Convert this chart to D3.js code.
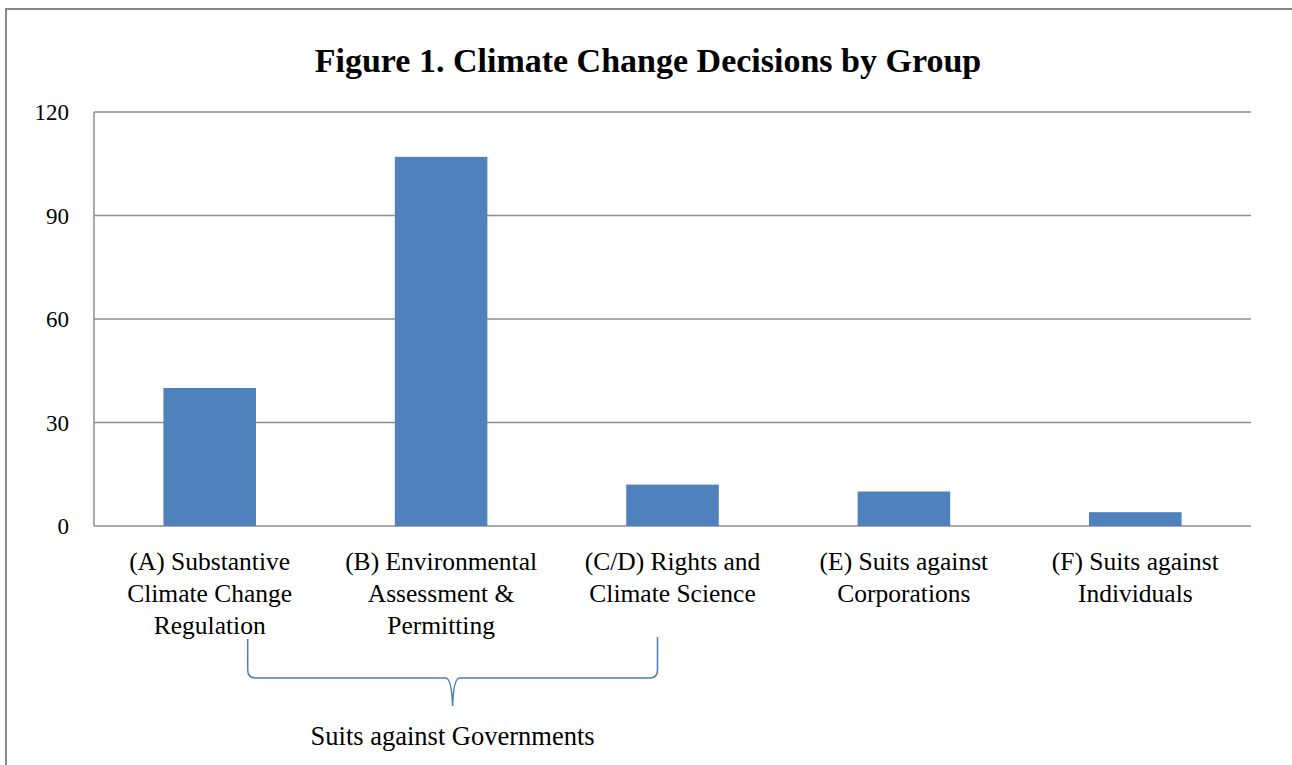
<!DOCTYPE html>
<html>
<head>
<meta charset="utf-8">
<script src="https://cdn.jsdelivr.net/npm/d3@7"></script>
<style>
  body { margin: 0; background: #fff; }
  text { font-family: "Liberation Serif", "DejaVu Serif", serif; fill: #000; }
</style>
</head>
<body>
<div id="chart"></div>
<script>
// chart data
let categories = ["A", "B", "C/D", "E", "F"];
let decisions = [40, 107, 12, 10, 4];
let labelLines = [
  ["(A) Substantive", "Climate Change", "Regulation"],
  ["(B) Environmental", "Assessment &", "Permitting"],
  ["(C/D) Rights and", "Climate Science"],
  ["(E) Suits against", "Corporations"],
  ["(F) Suits against", "Individuals"]
];
let yTicks = [0, 30, 60, 90, 120];
let title = "Figure 1. Climate Change Decisions by Group";
let bracketLabel = "Suits against Governments";

let svgWidth = 1292, svgHeight = 765;
let margin = { top: 112, right: 41, bottom: 239, left: 94 };

let svg = d3.select("#chart")
  .append("svg")
  .attr("width", svgWidth)
  .attr("height", svgHeight);

let width = svgWidth - margin.left - margin.right,
    height = svgHeight - margin.top - margin.bottom;

// outer frame
svg.append("rect")
  .attr("x", 6).attr("y", 9)
  .attr("width", 1300).attr("height", 800)
  .attr("fill", "#fff")
  .attr("stroke", "#868686")
  .attr("stroke-width", 2);

svg.append("text")
  .attr("x", 648).attr("y", 72)
  .attr("text-anchor", "middle")
  .attr("font-weight", "bold")
  .attr("font-size", 34)
  .text(title);

let g = svg.append("g")
  .attr("transform", `translate(${margin.left}, ${margin.top})`);

let x = d3.scaleBand()
  .domain(categories)
  .range([0, width])
  .paddingInner(0.6)
  .paddingOuter(0.3);

let y = d3.scaleLinear()
  .domain([0, 120])
  .range([height, 0]);

// gridlines
g.selectAll(".grid")
  .data(yTicks)
  .enter()
  .append("line")
  .attr("x1", 0).attr("x2", width)
  .attr("y1", d => y(d)).attr("y2", d => y(d))
  .attr("stroke", "#8c8c8c")
  .attr("stroke-width", 1.5);

// y axis line
g.append("line")
  .attr("x1", 0).attr("x2", 0)
  .attr("y1", 0).attr("y2", height)
  .attr("stroke", "#8c8c8c")
  .attr("stroke-width", 1.5);

g.selectAll(".ytick")
  .data(yTicks)
  .enter()
  .append("text")
  .attr("x", -25)
  .attr("y", d => y(d))
  .attr("dy", "0.35em")
  .attr("text-anchor", "end")
  .attr("font-size", 23)
  .text(d => d);

// bars
g.selectAll(".bar")
  .data(decisions)
  .enter()
  .append("rect")
  .attr("class", "bar")
  .attr("x", (d, i) => x(categories[i]))
  .attr("y", d => y(d))
  .attr("width", x.bandwidth())
  .attr("height", d => height - y(d))
  .attr("fill", "#4f81bd");

// category labels
let cx = c => x(c) + x.bandwidth() / 2;
labelLines.forEach((lines, i) => {
  let t = g.append("text")
    .attr("text-anchor", "middle")
    .attr("font-size", 25.5)
    .attr("x", cx(categories[i]))
    .attr("y", height + 44);
  lines.forEach((l, j) => {
    t.append("tspan")
      .attr("x", cx(categories[i]))
      .attr("dy", j === 0 ? 0 : 32)
      .text(l);
  });
});

// curly bracket under the government groups
let bl = cx("A") + 38, br = cx("C/D") - 15, bm = (bl + br) / 2;
let bTop = height + 113, hy = height + 152, tip = height + 180, r = 8;
let p = d3.path();
p.moveTo(bl, bTop);
p.lineTo(bl, hy - r);
p.quadraticCurveTo(bl, hy, bl + r, hy);
p.lineTo(bm - 7, hy);
p.quadraticCurveTo(bm - 1, hy, bm, tip);
p.moveTo(bm, tip);
p.quadraticCurveTo(bm + 1, hy, bm + 7, hy);
p.lineTo(br - r, hy);
p.quadraticCurveTo(br, hy, br, hy - r);
p.lineTo(br, bTop - 2);
g.append("path")
  .attr("d", p.toString())
  .attr("fill", "none")
  .attr("stroke", "#4a7ebb")
  .attr("stroke-width", 1.5);

g.append("text")
  .attr("x", bm)
  .attr("y", height + 219)
  .attr("text-anchor", "middle")
  .attr("font-size", 26.5)
  .text(bracketLabel);
</script>
</body>
</html>
